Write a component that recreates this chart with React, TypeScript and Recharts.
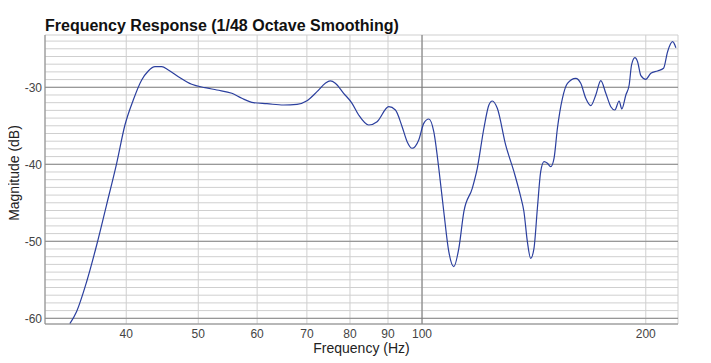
import React from 'react';
import {
  LineChart,
  Line,
  XAxis,
  YAxis,
  CartesianGrid,
  ReferenceLine,
} from 'recharts';

// Frequency (Hz) samples
const frequencies = [
  33.59, 34.29, 35.38, 36.5, 37.63, 38.83, 39.84, 40.88, 41.96, 42.83,
  43.73, 44.65, 45.57, 47.01, 49.0, 51.07, 52.96, 55.48, 57.23, 59.33,
  61.85, 65.12, 67.88, 70.02, 72.23, 74.11, 75.27, 76.45, 78.44, 80.51,
  82.18, 84.77, 87.01, 90.2, 92.09, 94.02, 95.49, 96.98, 98.99, 100.54,
  102.11, 103.71, 105.33, 106.98, 108.65, 110.35, 112.08, 113.84, 116.84, 118.67,
  121.13, 123.02, 124.33, 126.27, 129.57, 132.95, 135.74, 137.13, 138.59, 140.02,
  141.46, 142.96, 144.43, 145.92, 147.47, 148.98, 150.52, 152.11, 154.49, 156.91,
  160.99, 163.51, 166.07, 168.67, 171.31, 173.99, 176.71, 179.48, 181.72, 184.16,
  185.71, 188.03, 189.97, 191.39, 193.36, 194.99, 197.0, 200.04, 203.17, 207.44,
  211.34, 213.98, 217.33, 219.57,
];

// Magnitude (dB) at each frequency
const magnitudes = [
  -60.7, -59.14, -55.25, -50.48, -45.29, -39.87, -34.9, -31.65, -29.05, -27.88,
  -27.32, -27.32, -27.75, -28.62, -29.61, -30.05, -30.35, -30.78, -31.43, -32.0,
  -32.13, -32.3, -32.21, -31.74, -30.57, -29.48, -29.18, -29.48, -30.78, -32.08,
  -33.6, -34.9, -34.47, -32.52, -32.95, -35.12, -37.06, -37.92, -36.84, -34.68,
  -34.12, -35.77, -40.52, -46.16, -51.35, -53.3, -50.91, -46.16, -43.12, -40.52,
  -35.32, -32.3, -31.78, -32.73, -37.49, -40.96, -44.21, -46.16, -50.05, -52.21,
  -50.91, -45.71, -40.96, -39.66, -39.87, -40.31, -39.22, -35.32, -31.43, -29.48,
  -28.83, -29.48, -31.43, -32.39, -31.0, -29.14, -30.78, -32.52, -32.95, -31.78,
  -32.82, -31.0, -29.7, -27.1, -26.16, -26.68, -28.49, -28.96, -28.18, -27.88,
  -27.53, -25.38, -24.08, -24.86,
];

const xTicks = [40, 50, 60, 70, 80, 90, 100, 200];
const xMajor = [100];
const yTicks = Array.from({ length: 37 }, (_, i) => -60 + i); // every 1 dB
const yMajor = [-60, -50, -40, -30];
const xDomain: [number, number] = [31.1, 221];
const yDomain: [number, number] = [-60.74, -23.21];

const data = frequencies.map((f, i) => ({ f, db: magnitudes[i] }));

const FONT = '"Liberation Sans", Arial, Helvetica, sans-serif';

export default function App() {
  return (
    <div style={{ position: 'relative', width: 703, height: 355, fontFamily: FONT }}>
      <div
        style={{
          position: 'absolute',
          left: 37,
          top: 10,
          fontSize: 16,
          lineHeight: '16px',
          fontWeight: 'bold',
          color: '#111',
          whiteSpace: 'nowrap',
        }}
      >
        Frequency Response (1/48 Octave Smoothing)
      </div>
      <div
        style={{
          position: 'absolute',
          left: -1,
          top: 165,
          width: 14,
          fontSize: 14,
          lineHeight: '14px',
          color: '#222',
          whiteSpace: 'nowrap',
          writingMode: 'vertical-rl',
          transform: 'translateY(-50%) rotate(180deg)',
          zIndex: 2,
        }}
      >
        Magnitude (dB)
      </div>
      <LineChart
        width={703}
        height={355}
        data={data}
        margin={{ top: 27, right: 33, left: 0, bottom: 0 }}
      >
        <CartesianGrid stroke="#cfcfcf" strokeWidth={1} />
        {yMajor.map((y) => (
          <ReferenceLine key={'y' + y} y={y} stroke="#888" strokeWidth={1} />
        ))}
        {xMajor.map((x) => (
          <ReferenceLine key={'x' + x} x={x} stroke="#777" strokeWidth={1} />
        ))}
        <XAxis
          dataKey="f"
          type="number"
          scale="log"
          domain={xDomain}
          ticks={xTicks}
          allowDataOverflow
          height={39}
          tickLine={false}
          tickSize={0}
          tickMargin={5}
          axisLine={{ stroke: '#888' }}
          tick={{ fontSize: 12, fill: '#444', fontFamily: FONT }}
          label={{
            value: 'Frequency (Hz)',
            position: 'insideBottom',
            offset: 10,
            fontSize: 14,
            fill: '#222',
            fontFamily: FONT,
          }}
        />
        <XAxis
          xAxisId="top"
          orientation="top"
          type="number"
          scale="log"
          domain={xDomain}
          allowDataOverflow
          height={0}
          tick={false}
          tickLine={false}
          axisLine={{ stroke: '#888' }}
        />
        <YAxis
          type="number"
          domain={yDomain}
          ticks={yTicks}
          allowDataOverflow
          interval={0}
          width={37}
          tickLine={false}
          tickSize={0}
          tickMargin={3}
          axisLine={{ stroke: '#888' }}
          tick={{ fontSize: 12, fill: '#444', fontFamily: FONT }}
          tickFormatter={(v: number) => (v % 10 === 0 ? String(v) : '')}
        />
        <YAxis
          yAxisId="right"
          orientation="right"
          type="number"
          domain={yDomain}
          allowDataOverflow
          width={0}
          tick={false}
          tickLine={false}
          axisLine={{ stroke: '#888' }}
        />
        <Line
          type="monotone"
          dataKey="db"
          stroke="#2b3f9e"
          strokeWidth={1.2}
          dot={false}
          isAnimationActive={false}
        />
      </LineChart>
    </div>
  );
}
